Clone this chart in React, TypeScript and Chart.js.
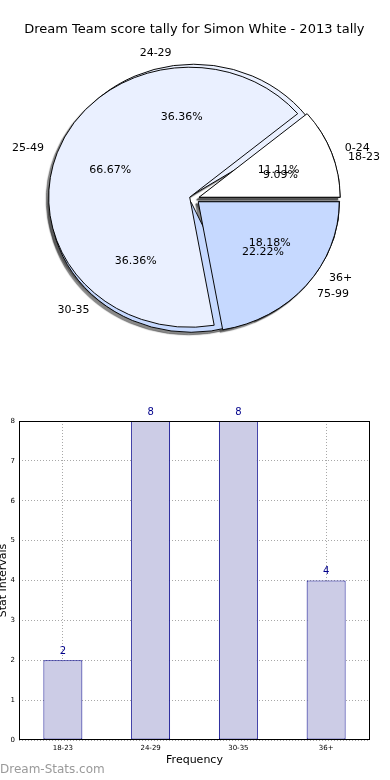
import React, { useEffect, useRef } from 'react';
import { Chart, registerables, ArcElement, PieController } from 'chart.js';

Chart.register(...registerables);

// ---------- data ----------
const TITLE = 'Dream Team score tally for Simon White - 2013 tally';

// pie drawn on top
const PIE_TOP_LABELS = ['0-24', '25-49', '75-99'];
const PIE_TOP_VALUES = [1, 6, 2];
// pie drawn underneath
const PIE_BOTTOM_LABELS = ['18-23', '24-29', '30-35', '36+'];
const PIE_BOTTOM_VALUES = [2, 8, 8, 4];

const BAR_CATEGORIES = ['18-23', '24-29', '30-35', '36+'];
const BAR_VALUES = [2, 8, 8, 4];
const Y_MIN = 0;
const Y_MAX = 8;
const Y_STEP = 1;

// ---------- style ----------
const FONT = "'DejaVu Sans', sans-serif";
const WHITE = '#ffffff';
const LIGHT = '#eaf0ff';
const BLUE = '#c6d9ff';
const PIE_TOP_COLORS = [WHITE, LIGHT, BLUE];
const PIE_BOTTOM_COLORS = [WHITE, LIGHT, BLUE, BLUE];
const RADIUS = 141;
const SQUASH = 0.922;
const EXPLODE = 5;
const SHADOW_SHIFT = 5000;

let shadowPass = false;

class EllipseArc extends ArcElement {
  static id = 'ellipseArc';
  static defaults = { ...(ArcElement as any).defaults, explode: 0, squash: 1 };
  draw(ctx: CanvasRenderingContext2D) {
    const o: any = this.options;
    const k = o.squash || 1;
    const e = o.explode || 0;
    const p: any = (this as any).getProps(['x', 'y', 'startAngle', 'endAngle']);
    const mid = (p.startAngle + p.endAngle) / 2;
    ctx.save();
    if (shadowPass) {
      ctx.shadowColor = 'rgba(60,60,60,0.6)';
      ctx.shadowBlur = 1;
      ctx.shadowOffsetX = SHADOW_SHIFT - 2.5;
      ctx.shadowOffsetY = 2.5;
      ctx.translate(-SHADOW_SHIFT, 0);
    }
    ctx.translate(p.x, p.y);
    ctx.scale(1, -k);
    ctx.translate(e * Math.cos(mid), e * Math.sin(mid));
    ctx.translate(-p.x, -p.y);
    super.draw(ctx);
    ctx.restore();
  }
}

class EllipsePieController extends PieController {
  static id = 'ellipsePie';
  static defaults = { ...(PieController as any).defaults, dataElementType: 'ellipseArc' };
  _getRingWeightOffset(_i: number) {
    return 0;
  }
}

Chart.register(EllipseArc as any, EllipsePieController as any);

const pieShadowPlugin = {
  id: 'pieShadow',
  beforeDatasetsDraw(chart: any) {
    shadowPass = true;
    const metas = chart.getSortedVisibleDatasetMetas();
    for (let i = metas.length - 1; i >= 0; i--) {
      metas[i].data.forEach((a: any) => a.draw(chart.ctx));
    }
    shadowPass = false;
  },
};

const pieLabelPlugin = {
  id: 'pieLabels',
  afterDatasetsDraw(chart: any) {
    const ctx = chart.ctx as CanvasRenderingContext2D;
    ctx.save();
    ctx.font = `11px ${FONT}`;
    ctx.fillStyle = '#000';
    ctx.textBaseline = 'middle';
    const order = [1, 0];
    order.forEach((di) => {
      const ds = chart.data.datasets[di];
      const meta = chart.getDatasetMeta(di);
      const total = ds.data.reduce((a: number, b: number) => a + b, 0);
      meta.data.forEach((arc: any, i: number) => {
        const p = arc.getProps(['x', 'y', 'startAngle', 'endAngle', 'outerRadius']);
        const mid = (p.startAngle + p.endAngle) / 2;
        const c = Math.cos(mid);
        const s = Math.sin(mid);
        const cx = p.x + EXPLODE * c;
        const cy = p.y - SQUASH * EXPLODE * s;
        const r = p.outerRadius;
        ctx.textAlign = c > 0 ? 'left' : 'right';
        ctx.fillText(ds.categories[i], cx + 1.1 * r * c, cy - SQUASH * 1.1 * r * s);
        ctx.textAlign = 'center';
        ctx.fillText(((ds.data[i] / total) * 100).toFixed(2) + '%', cx + 0.6 * r * c, cy - SQUASH * 0.6 * r * s);
      });
    });
    ctx.restore();
  },
};

const framePlugin = {
  id: 'frame',
  afterDraw(chart: any) {
    const { ctx, chartArea } = chart;
    ctx.save();
    ctx.strokeStyle = '#000';
    ctx.lineWidth = 1;
    const l = Math.round(chartArea.left) + 0.5;
    const t = Math.round(chartArea.top) + 0.5;
    const r = Math.round(chartArea.right) - 0.5;
    const b = Math.round(chartArea.bottom) - 0.5;
    ctx.strokeRect(l, t, r - l, b - t);
    // value labels
    const meta = chart.getDatasetMeta(0);
    ctx.fillStyle = '#00008b';
    ctx.font = `10px ${FONT}`;
    ctx.textAlign = 'center';
    ctx.textBaseline = 'middle';
    meta.data.forEach((bar: any, i: number) => {
      ctx.fillText(String(chart.data.datasets[0].data[i]), bar.x, bar.y - 9);
    });
    // watermark
    ctx.fillStyle = '#9a9a9a';
    ctx.font = `12px ${FONT}`;
    ctx.textAlign = 'left';
    ctx.fillText('Dream-Stats.com', 0, 370);
    ctx.restore();
  },
};

function makePieConfig(): any {
  return {
    type: 'ellipsePie',
    data: {
      labels: PIE_TOP_LABELS,
      datasets: [
        {
          data: PIE_TOP_VALUES,
          categories: PIE_TOP_LABELS,
          backgroundColor: PIE_TOP_COLORS,
          borderColor: '#000',
          borderWidth: 1,
          explode: EXPLODE,
          squash: SQUASH,
        },
        {
          data: PIE_BOTTOM_VALUES,
          categories: PIE_BOTTOM_LABELS,
          backgroundColor: PIE_BOTTOM_COLORS,
          borderColor: '#000',
          borderWidth: 1,
          explode: EXPLODE,
          squash: SQUASH,
        },
      ],
    },
    options: {
      animation: false,
      responsive: false,
      events: [],
      radius: RADIUS,
      rotation: 90,
      layout: { padding: { right: 1.2 } },
      plugins: {
        legend: { display: false },
        tooltip: { enabled: false },
        title: {
          display: true,
          text: TITLE,
          color: '#000',
          font: { family: FONT, size: 13, weight: 'normal' },
          padding: { top: 22, bottom: 0 },
        },
      },
    },
    plugins: [pieShadowPlugin, pieLabelPlugin],
  };
}

function makeBarConfig(): any {
  const GRID = '#a8a8a8';
  return {
    type: 'bar',
    data: {
      labels: BAR_CATEGORIES,
      datasets: [
        {
          data: BAR_VALUES,
          backgroundColor: '#ccccе6'.replace('е', 'e'),
          borderColor: '#00008b',
          borderWidth: 1,
          borderSkipped: false,
          barPercentage: 0.444,
          categoryPercentage: 1,
        },
      ],
    },
    options: {
      animation: false,
      responsive: false,
      events: [],
      layout: { padding: { top: 21, right: 20, bottom: 0, left: 0 } },
      plugins: { legend: { display: false }, tooltip: { enabled: false } },
      scales: {
        x: {
          z: 1,
          grid: { offset: false, color: GRID, drawTicks: false, lineWidth: 1 },
          border: { display: false, dash: [1, 2] },
          ticks: { font: { family: FONT, size: 7 }, color: '#000', padding: 4, maxRotation: 0 },
          title: {
            display: true,
            text: 'Frequency',
            color: '#000',
            font: { family: FONT, size: 11 },
            padding: { top: 0, bottom: 13.4 },
          },
          afterFit: (s: any) => {
            s.height = 40;
          },
        },
        y: {
          z: 1,
          min: Y_MIN,
          max: Y_MAX,
          grid: { color: GRID, drawTicks: false, lineWidth: 1 },
          border: { display: false, dash: [1, 2] },
          ticks: { stepSize: Y_STEP, font: { family: FONT, size: 7 }, color: '#000', padding: 4 },
          title: {
            display: true,
            text: 'Stat Intervals',
            color: '#000',
            font: { family: FONT, size: 11 },
            padding: { top: -3, bottom: 0 },
          },
          afterFit: (s: any) => {
            s.width = 19;
          },
        },
      },
    },
    plugins: [framePlugin],
  };
}

export default function App() {
  const pieRef = useRef<HTMLCanvasElement>(null);
  const barRef = useRef<HTMLCanvasElement>(null);
  useEffect(() => {
    const pie = new Chart(pieRef.current as HTMLCanvasElement, makePieConfig());
    const bar = new Chart(barRef.current as HTMLCanvasElement, makeBarConfig());
    return () => {
      pie.destroy();
      bar.destroy();
    };
  }, []);
  return (
    <div style={{ position: 'fixed', left: 0, top: 0, width: 390, height: 780, background: '#fff' }}>
      <canvas
        ref={pieRef}
        width={390}
        height={360}
        style={{ position: 'absolute', left: 0, top: 0, width: 390, height: 360 }}
      />
      <canvas
        ref={barRef}
        width={390}
        height={380}
        style={{ position: 'absolute', left: 0, top: 400, width: 390, height: 380 }}
      />
    </div>
  );
}
